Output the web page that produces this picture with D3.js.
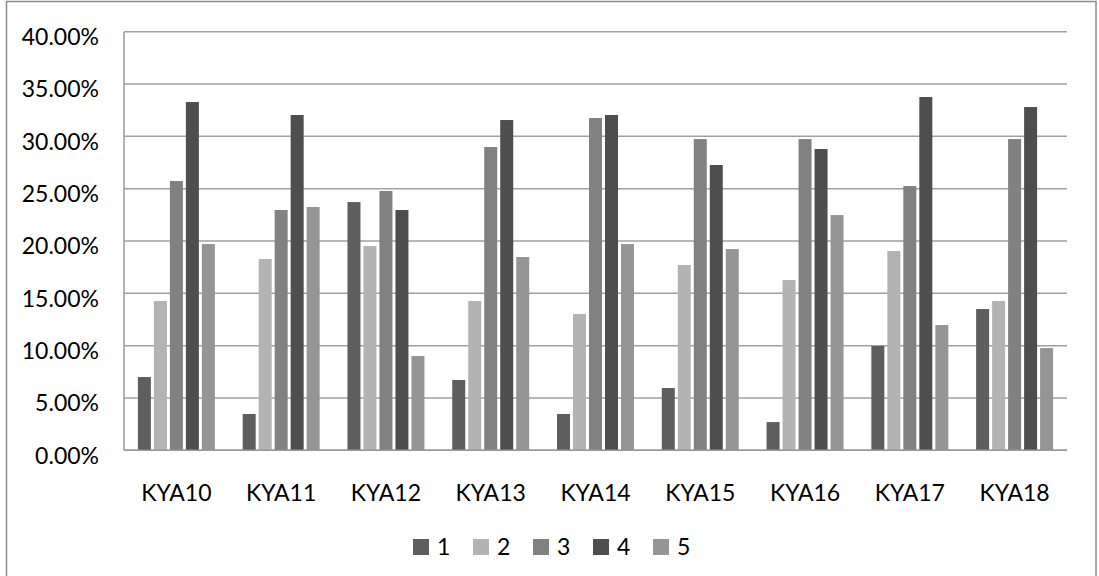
<!DOCTYPE html>
<html>
<head>
<meta charset="utf-8">
<script src="https://cdn.jsdelivr.net/npm/d3@7/dist/d3.min.js"></script>
<style>
  html, body { margin: 0; padding: 0; background: #ffffff; }
  svg { display: block; font-family: Lato, "Open Sans", sans-serif; }
</style>
</head>
<body>
<svg id="chart" width="1099" height="576"></svg>
<script>
// Categories along the x axis
const categories = ["KYA10", "KYA11", "KYA12", "KYA13", "KYA14", "KYA15", "KYA16", "KYA17", "KYA18"];
// Series names (legend entries)
const seriesNames = ["1", "2", "3", "4", "5"];
// Share per category for each series (fractions)
const series1 = [0.0700, 0.0347, 0.2372, 0.0672, 0.0347, 0.0595, 0.0270, 0.0997, 0.1350];
const series2 = [0.1427, 0.1828, 0.1952, 0.1427, 0.1302, 0.1771, 0.1627, 0.1904, 0.1427];
const series3 = [0.2573, 0.2296, 0.2478, 0.2898, 0.3175, 0.2974, 0.2974, 0.2525, 0.2974];
const series4 = [0.3328, 0.3204, 0.2296, 0.3156, 0.3204, 0.2726, 0.2879, 0.3376, 0.3280];
const series5 = [0.1971, 0.2325, 0.0901, 0.1847, 0.1971, 0.1923, 0.2248, 0.1197, 0.0977];
// Y axis tick values
const yTicks = [0, 0.05, 0.10, 0.15, 0.20, 0.25, 0.30, 0.35, 0.40];

const seriesValues = [series1, series2, series3, series4, series5];
const colors = ["#5e5e5e", "#b3b3b3", "#818181", "#4e4e4e", "#959595"];

const svg = d3.select("#chart");
const plot = { left: 124, right: 1067, top: 31.7, bottom: 450.3 };

// Outer chart frame
svg.append("rect")
  .attr("x", 6.5).attr("y", 1.5)
  .attr("width", 1089.5).attr("height", 620)
  .attr("fill", "#ffffff")
  .attr("stroke", "#8c8c8c").attr("stroke-width", 1.5);

const x = d3.scaleBand().domain(categories).range([plot.left, plot.right]).padding(0);
const y = d3.scaleLinear().domain([0, 0.4]).range([plot.bottom, plot.top]);

const inset = x.bandwidth() * 0.1327;
const xs = d3.scaleBand().domain(seriesNames)
  .range([inset, x.bandwidth() - inset])
  .paddingInner(0.1875).paddingOuter(0);

// Horizontal gridlines
svg.append("g").selectAll("line")
  .data(yTicks)
  .join("line")
  .attr("x1", plot.left).attr("x2", plot.right)
  .attr("y1", d => y(d)).attr("y2", d => y(d))
  .attr("stroke", "#a0a0a0").attr("stroke-width", 1.5);

// Y axis labels
const fmt = d3.format(".2%");
svg.append("g").selectAll("text")
  .data(yTicks)
  .join("text")
  .attr("x", 99)
  .attr("y", d => y(d) + 13.3)
  .attr("text-anchor", "end")
  .attr("font-size", 23)
  .attr("fill", "#000")
  .text(d => fmt(d));

// Bars
const rows = categories.map((c, i) => ({ cat: c, vals: seriesValues.map(s => s[i]) }));
const groups = svg.append("g").selectAll("g")
  .data(rows)
  .join("g")
  .attr("transform", d => `translate(${x(d.cat)},0)`);

groups.selectAll("rect")
  .data(d => d.vals.map((v, j) => ({ name: seriesNames[j], v, j })))
  .join("rect")
  .attr("x", d => xs(d.name))
  .attr("width", xs.bandwidth())
  .attr("y", d => y(d.v))
  .attr("height", d => y(0) - y(d.v))
  .attr("fill", d => colors[d.j]);

// Axis lines
svg.append("line")
  .attr("x1", plot.left).attr("x2", plot.left)
  .attr("y1", plot.top).attr("y2", plot.bottom)
  .attr("stroke", "#999").attr("stroke-width", 1.5);
svg.append("line")
  .attr("x1", plot.left).attr("x2", plot.right)
  .attr("y1", plot.bottom).attr("y2", plot.bottom)
  .attr("stroke", "#999").attr("stroke-width", 1.5);

// Category labels
svg.append("g").selectAll("text")
  .data(categories)
  .join("text")
  .attr("x", d => x(d) + x.bandwidth() / 2)
  .attr("y", 501)
  .attr("text-anchor", "middle")
  .attr("font-size", 23)
  .attr("fill", "#000")
  .text(d => d);

// Legend
const legend = svg.append("g").selectAll("g")
  .data(seriesNames)
  .join("g")
  .attr("transform", (d, i) => `translate(${413 + i * 60},539)`);
legend.append("rect")
  .attr("width", 16).attr("height", 16)
  .attr("fill", (d, i) => colors[i]);
legend.append("text")
  .attr("x", 24).attr("y", 16)
  .attr("font-size", 23)
  .attr("fill", "#000")
  .text(d => d);
</script>
</body>
</html>
